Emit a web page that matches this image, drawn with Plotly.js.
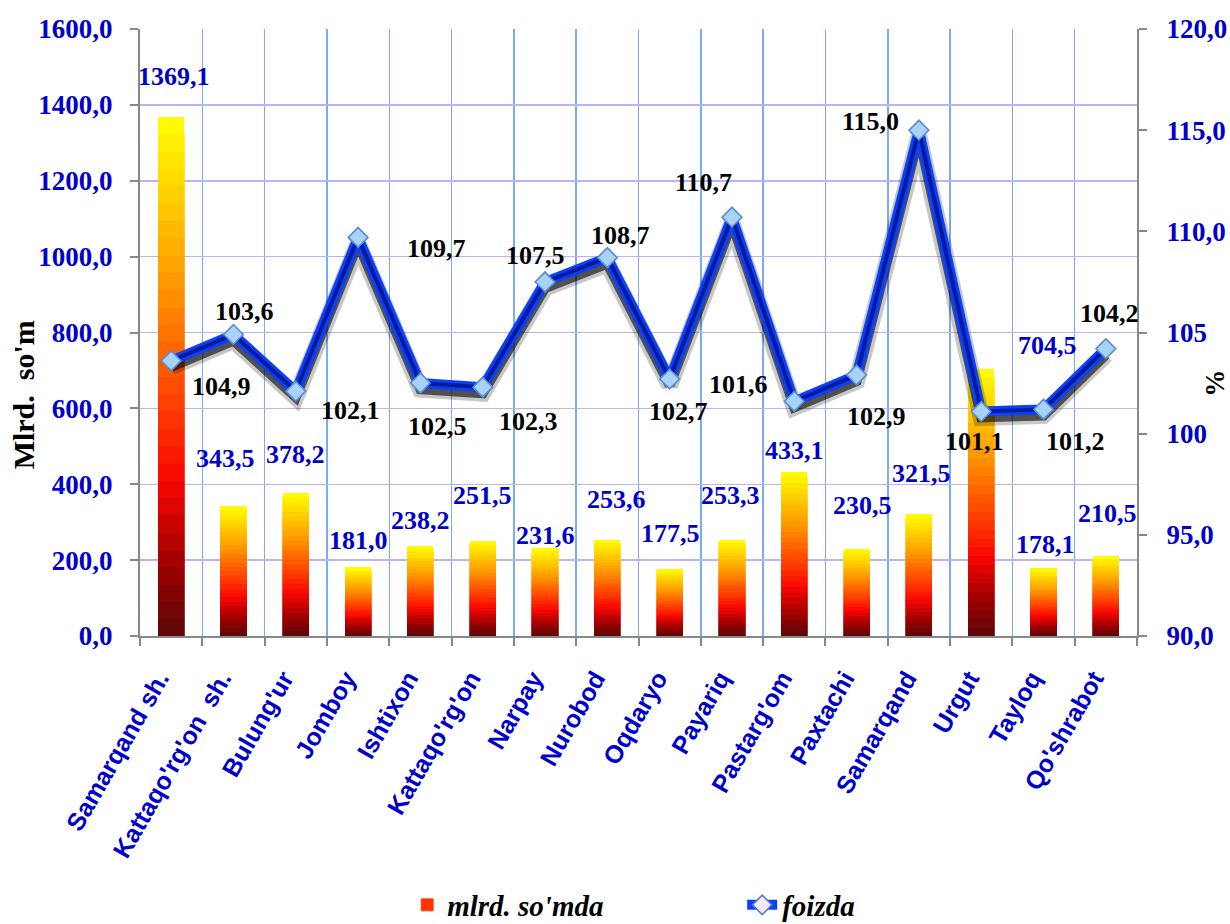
<!DOCTYPE html>
<html><head><meta charset="utf-8">
<script src="https://cdn.plot.ly/plotly-3.0.1.min.js"></script>
<style>html,body{margin:0;padding:0;background:#fff}</style>
</head><body><div id="chart" style="width:1230px;height:924px"></div>
<script>
// ---- data ----
const categories = ["Samarqand sh.", "Kattaqo'rg'on\u00a0 sh.", "Bulung'ur", "Jomboy", "Ishtixon", "Kattaqo'rg'on", "Narpay", "Nurobod", "Oqdaryo", "Payariq", "Pastarg'om", "Paxtachi", "Samarqand", "Urgut", "Tayloq", "Qo'shrabot"];
const volumeBln = [1369.1, 343.5, 378.2, 181.0, 238.2, 251.5, 231.6, 253.6, 177.5, 253.3, 433.1, 230.5, 321.5, 704.5, 178.1, 210.5];
const growthPct = [103.6, 104.9, 102.1, 109.7, 102.5, 102.3, 107.5, 108.7, 102.7, 110.7, 101.6, 102.9, 115.0, 101.1, 101.2, 104.2];
const leftTickVals = [0, 200, 400, 600, 800, 1000, 1200, 1400, 1600];
const rightTickVals = [90, 95, 100, 105, 110, 115, 120];
const rightTickText = ["90,0", "95,0", "100", "105", "110,0", "115,0", "120,0"];
const seriesNames = ["mlrd. so'mda", "foizda"];
const leftTitle = "Mlrd.\u00a0 so'm";
const rightTitle = "%";

// ---- styling: label pixel offsets (x right, y up) as placed in the reference ----
const barLabelShift = [[3,40],[-8,47],[0,38],[0,27],[0,25],[0,45],[0,13],[9,40],[1,35],[-1,44],[0,21],[6,43],[3,41],[66,23],[2,24],[2,43]];
const lineLabelShift = [[73,49],[-12,-52],[55,-19],[78,-11],[17,-43],[46,-34],[-10,26],[13,22],[9,-32],[-28,35],[-56,17],[20,-42],[-48,9],[-7,-30],[32,-32],[4,35]];

const fmt = v => v.toFixed(1).replace('.', ',');

// gradient for bars (bottom -> top)
const stops = [[0,[88,8,8]],[0.14,[160,0,0]],[0.3,[250,6,0]],[0.48,[255,75,0]],[0.66,[255,145,0]],[0.84,[255,205,0]],[1,[255,255,0]]];
function gradColor(t){
  for(let i=1;i<stops.length;i++){
    if(t<=stops[i][0]){
      const a=stops[i-1], b=stops[i];
      const f=(t-a[0])/(b[0]-a[0]);
      const c=a[1].map((v,k)=>Math.round(v+(b[1][k]-v)*f));
      return `rgb(${c[0]},${c[1]},${c[2]})`;
    }
  }
  return 'rgb(255,255,0)';
}

const N = 30;
const traces = [];
for(let k=0;k<N;k++){
  const col = gradColor((k+0.5)/N);
  traces.push({
    type:'bar', x:categories, y:volumeBln.map(v=>v/N),
    marker:{color:col, line:{width:k<N-1?0.8:0, color:col}},
    name:seriesNames[0], showlegend:k===12, legendrank:1,
    hoverinfo:'skip', xaxis:'x', yaxis:'y'
  });
}
// line shadow (hidden axis y2, range shifted so the shadow sits a few px lower)
traces.push({type:'scatter', mode:'lines', x:categories, y:growthPct, xaxis:'x', yaxis:'y2',
  line:{color:'rgba(0,0,0,0.22)', width:17}, showlegend:false, hoverinfo:'skip'});
traces.push({type:'scatter', mode:'lines', x:categories, y:growthPct, xaxis:'x', yaxis:'y2',
  line:{color:'rgba(0,0,0,0.6)', width:10}, showlegend:false, hoverinfo:'skip'});
// main line (visible right axis y3)
traces.push({type:'scatter', mode:'lines+markers', x:categories, y:growthPct, xaxis:'x', yaxis:'y3',
  name:seriesNames[1], legendrank:2,
  line:{color:'#0a40f8', width:10},
  marker:{symbol:'diamond', size:15, color:'#f6e8f6', line:{color:'#4a7fc8', width:1.5}}});
// dark center stripe
traces.push({type:'scatter', mode:'lines', x:categories, y:growthPct, xaxis:'x', yaxis:'y3',
  line:{color:'rgba(0,8,120,0.7)', width:4}, showlegend:false, hoverinfo:'skip'});
// markers on top
traces.push({type:'scatter', mode:'markers', x:categories, y:growthPct, xaxis:'x', yaxis:'y3',
  marker:{symbol:'diamond', size:15, color:'#a9d2f7', line:{color:'#5a8fd8', width:1.5}},
  showlegend:false});

const annotations = [];
volumeBln.forEach((v,i)=>{
  annotations.push({x:categories[i], y:v, xref:'x', yref:'y', text:fmt(v), showarrow:false,
    xanchor:'center', yanchor:'middle', xshift:barLabelShift[i][0], yshift:barLabelShift[i][1],
    font:{family:'Liberation Serif', size:26, color:'#0000cc', weight:'bold'}});
});
growthPct.forEach((v,i)=>{
  annotations.push({x:categories[i], y:v, xref:'x', yref:'y3', text:fmt(v), showarrow:false,
    xanchor:'center', yanchor:'middle', xshift:lineLabelShift[i][0], yshift:lineLabelShift[i][1],
    font:{family:'Liberation Serif', size:26, color:'#000000', weight:'bold'}});
});
annotations.push({xref:'paper', yref:'paper', x:-0.117, y:0.397, text:leftTitle, textangle:-90, showarrow:false,
  xanchor:'center', yanchor:'middle', font:{family:'Liberation Serif', size:30, color:'#000', weight:'bold'}});
annotations.push({xref:'paper', yref:'paper', x:1.078, y:0.417, text:rightTitle, textangle:-90, showarrow:false,
  xanchor:'center', yanchor:'middle', font:{family:'Liberation Serif', size:27, color:'#000', weight:'bold'}});

const tickFontBlue = {family:'Liberation Serif', size:27, color:'#0000cc', weight:'bold'};

const layout = {
  width:1230, height:924,
  margin:{l:140, r:93, t:29, b:288, pad:0, autoexpand:false},
  paper_bgcolor:'#fff', plot_bgcolor:'#fff',
  separators:',.',
  barmode:'stack', bargap:0.58,
  showlegend:true,
  legend:{orientation:'h', x:0.604, xanchor:'center', y:-0.4432, yanchor:'middle',
    font:{family:'Liberation Serif', size:29, color:'#000', weight:'bold', style:'italic'},
    entrywidth:290, traceorder:'normal', bgcolor:'rgba(0,0,0,0)'},
  xaxis:{type:'category', tickson:'boundaries', ticks:'outside', ticklen:8, tickcolor:'#888', tickwidth:2,
    showgrid:true, gridcolor:'#7aaaf8', gridwidth:1.5,
    showline:true, linecolor:'#888', linewidth:2,
    tickangle:-60, ticklabelstandoff:16, ticklabelshift:-12,
    tickfont:{family:'Liberation Sans', size:25, color:'#0000cc', weight:'bold'},
    range:[-0.5,15.5], fixedrange:true, automargin:false},
  yaxis:{range:[0,1600], tickvals:leftTickVals, tickformat:'.1f', ticks:'outside', ticklen:8, tickcolor:'#888', tickwidth:2,
    showline:true, linecolor:'#888', linewidth:2, showgrid:true, gridcolor:'#bfb2f2', gridwidth:1.5, zeroline:false,
    tickfont:tickFontBlue, ticklabelstandoff:12, automargin:false},
  yaxis2:{range:[90.3,120.3], overlaying:'y', side:'right', visible:false, showgrid:false, zeroline:false},
  yaxis3:{range:[90,120], overlaying:'y', side:'right', tickvals:rightTickVals, ticktext:rightTickText,
    ticks:'outside', ticklen:8, tickcolor:'#888', tickwidth:2, showline:true, linecolor:'#888', linewidth:2,
    showgrid:false, zeroline:false, tickfont:tickFontBlue, ticklabelstandoff:14, automargin:false},
  annotations:annotations
};

Plotly.newPlot('chart', traces, layout, {staticPlot:true, displayModeBar:false});
</script>
</body></html>
